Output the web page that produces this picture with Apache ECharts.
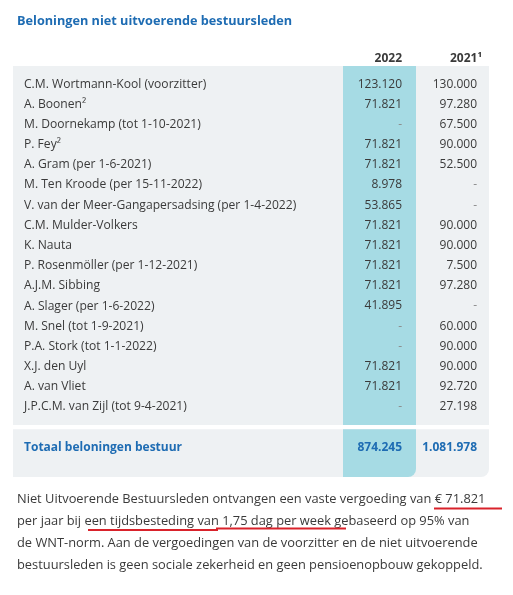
<!DOCTYPE html>
<html>
<head>
<meta charset="utf-8">
<script src="https://cdn.jsdelivr.net/npm/echarts@6/dist/echarts.min.js"></script>
<style>
  html, body { margin: 0; padding: 0; background: #fff; }
  #chart { width: 513px; height: 595px; }
</style>
</head>
<body>
<div id="chart"></div>
<script>
// tabel gegevens
var namen = [
  'C.M. Wortmann-Kool (voorzitter)',
  'A. Boonen²',
  'M. Doornekamp (tot 1-10-2021)',
  'P. Fey²',
  'A. Gram (per 1-6-2021)',
  'M. Ten Kroode (per 15-11-2022)',
  'V. van der Meer-Gangapersadsing (per 1-4-2022)',
  'C.M. Mulder-Volkers',
  'K. Nauta',
  'P. Rosenmöller (per 1-12-2021)',
  'A.J.M. Sibbing',
  'A. Slager (per 1-6-2022)',
  'M. Snel (tot 1-9-2021)',
  'P.A. Stork (tot 1-1-2022)',
  'X.J. den Uyl',
  'A. van Vliet',
  'J.P.C.M. van Zijl (tot 9-4-2021)'
];
var jaren = ['2022', '2021¹'];
var waarden2022 = ['123.120', '71.821', '-', '71.821', '71.821', '8.978', '53.865', '71.821', '71.821',
  '71.821', '71.821', '41.895', '-', '-', '71.821', '71.821', '-'];
var waarden2021 = ['130.000', '97.280', '67.500', '90.000', '52.500', '-', '-', '90.000', '90.000',
  '7.500', '97.280', '-', '60.000', '90.000', '90.000', '92.720', '27.198'];
var totaalLabel = 'Totaal beloningen bestuur';
var totalen = ['874.245', '1.081.978'];

var titel = 'Beloningen niet uitvoerende bestuursleden';
var tekstRegels = [
  'Niet Uitvoerende Bestuursleden ontvangen een vaste vergoeding van € 71.821',
  'per jaar bij een tijdsbesteding van 1,75 dag per week gebaseerd op 95% van',
  'de WNT-norm. Aan de vergoedingen van de voorzitter en de niet uitvoerende',
  'bestuursleden is geen sociale zekerheid en geen pensioenopbouw gekoppeld.'
];

var FONT = '"Open Sans", "Noto Sans", sans-serif';
var TEKST = '#3a3a3a';
var BLAUW = '#1e6cb3';
var GRIJS = '#eef1f3';
var KOLOM = '#a6dbe4';
var RIJ_H = 20.18;
var NAAM_BREEDTE = 330; // breedte van de naamkolom links van de cijfers
var PAD = 8;

// rijen: 17 namen, een lege rij, dan het totaal
var rijen = namen.concat(['', totaalLabel]);
var totaalRij = rijen.length - 1;

// cellen opbouwen
var cellen = [], celTekst = [];
for (var i = 0; i < namen.length; i++) {
  cellen.push([0, i]); celTekst.push(waarden2022[i]);
  cellen.push([1, i]); celTekst.push(waarden2021[i]);
}
cellen.push([0, totaalRij]); celTekst.push(totalen[0]);
cellen.push([1, totaalRij]); celTekst.push(totalen[1]);

// blokken voor de achtergrond: [eerste rij, laatste rij, extra onder]
var blokken = [[0, namen.length - 1, PAD], [totaalRij, totaalRij, 19.6]];

var chart = echarts.init(document.getElementById('chart'), null, { renderer: 'canvas' });

var option = {
  animation: false,
  title: {
    text: titel,
    left: 12,
    top: 10,
    textStyle: { fontFamily: FONT, fontSize: 12.7, fontWeight: 'bold', color: BLAUW }
  },
  grid: {
    left: 343,
    right: 24,
    top: 74,
    height: RIJ_H * rijen.length
  },
  xAxis: {
    type: 'category',
    position: 'top',
    data: jaren,
    axisLine: { show: false },
    axisTick: { show: false },
    splitLine: { show: false },
    axisLabel: {
      interval: 0,
      margin: 9,
      formatter: function (v, idx) {
        return idx === 0 ? '{a|' + v + '}' : '{b|' + v + '}';
      },
      rich: {
        a: { width: 45, align: 'right', fontFamily: FONT, fontSize: 12, fontWeight: 'bold', color: TEKST },
        b: { width: 59, align: 'right', fontFamily: FONT, fontSize: 12, fontWeight: 'bold', color: TEKST }
      }
    }
  },
  yAxis: {
    type: 'category',
    inverse: true,
    data: rijen,
    axisLine: { show: false },
    axisTick: { show: false },
    splitLine: { show: false },
    axisLabel: {
      interval: 0,
      align: 'left',
      margin: 319,
      fontFamily: FONT,
      fontSize: 12.1,
      color: TEKST,
      formatter: function (v, idx) {
        return idx === totaalRij ? '{t|' + v + '}' : v;
      },
      rich: {
        t: { fontFamily: FONT, fontSize: 12, fontWeight: 'bold', color: BLAUW }
      }
    }
  },
  series: [
    {
      name: 'achtergrond',
      type: 'custom',
      silent: true,
      clip: false,
      z: 0,
      data: blokken,
      renderItem: function (params, api) {
        var start = api.value(0), eind = api.value(1), onder = api.value(2);
        var pTop = api.coord([0, start]);
        var pEnd = api.coord([0, eind]);
        var s = api.size([1, 1]);
        var y0 = pTop[1] - s[1] / 2 - PAD;
        var y1 = pEnd[1] + s[1] / 2 + onder;
        var x0 = pTop[0] - s[0] / 2;
        var laatste = params.dataIndex === blokken.length - 1;
        return {
          type: 'group',
          children: [
            {
              type: 'rect',
              shape: { x: x0 - NAAM_BREEDTE, y: y0, width: NAAM_BREEDTE + 2 * s[0], height: y1 - y0, r: laatste ? [0, 0, 8, 0] : 0 },
              style: { fill: GRIJS }
            },
            {
              type: 'rect',
              shape: { x: x0, y: y0, width: s[0], height: y1 - y0, r: laatste ? [0, 0, 8, 0] : 0 },
              style: { fill: KOLOM }
            }
          ]
        };
      }
    },
    {
      name: 'cellen',
      type: 'custom',
      silent: true,
      z: 2,
      data: cellen,
      renderItem: function (params, api) {
        var col = api.value(0), rij = api.value(1);
        var p = api.coord([col, rij]);
        var s = api.size([1, 1]);
        var t = celTekst[params.dataIndex];
        var isTotaal = rij === totaalRij;
        var inzet = col === 0 ? 14 : 12;
        return {
          type: 'text',
          style: {
            x: p[0] + s[0] / 2 - inzet,
            y: p[1],
            text: t,
            align: 'right',
            verticalAlign: 'middle',
            font: (isTotaal ? 'bold ' : '') + '12px ' + FONT,
            fill: isTotaal ? BLAUW : (t === '-' ? '#8a8a8a' : TEKST)
          }
        };
      }
    }
  ],
  graphic: tekstRegels.map(function (regel, i) {
    return {
      type: 'text',
      x: 17,
      y: 499.5 + i * 22.1,
      style: { text: regel, font: '12.85px ' + FONT, fill: TEKST, verticalAlign: 'middle' }
    };
  }).concat([
    { type: 'line', shape: { x1: 434, y1: 508.5, x2: 502, y2: 508.5 }, style: { stroke: '#d9222b', lineWidth: 2 } },
    { type: 'line', shape: { x1: 88, y1: 530, x2: 218, y2: 530 }, style: { stroke: '#d9222b', lineWidth: 2 } },
    { type: 'line', shape: { x1: 216, y1: 528.5, x2: 346, y2: 528.5 }, style: { stroke: '#d9222b', lineWidth: 2 } }
  ])
};

chart.setOption(option);
</script>
</body>
</html>
